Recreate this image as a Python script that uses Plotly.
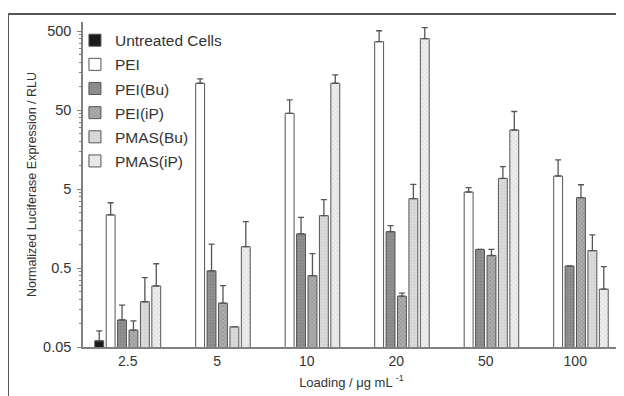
import plotly.graph_objects as go

categories = ["2.5", "5", "10", "20", "50", "100"]
series_names = ["Untreated Cells", "PEI", "PEI(Bu)", "PEI(iP)", "PMAS(Bu)", "PMAS(iP)"]

untreated = [0.06, None, None, None, None, None]
untreated_sd = [0.02, None, None, None, None, None]
pei = [2.35, 109, 45.4, 366, 4.58, 7.3]
pei_sd = [1.0, 15, 21.6, 138, 0.62, 4.4]
pei_bu = [0.11, 0.46, 1.35, 1.44, 0.86, 0.53]
pei_bu_sd = [0.059, 0.54, 0.84, 0.28, 0, 0]
pei_ip = [0.082, 0.18, 0.40, 0.22, 0.72, 3.88]
pei_ip_sd = [0.025, 0.12, 0.36, 0.02, 0.14, 1.78]
pmas_bu = [0.187, 0.09, 2.3, 3.77, 6.8, 0.83]
pmas_bu_sd = [0.19, 0, 1.36, 1.96, 2.8, 0.48]
pmas_ip = [0.296, 0.93, 109, 400, 27.9, 0.27]
pmas_ip_sd = [0.27, 1.0, 30, 151, 20, 0.25]

y_ticks = [0.05, 0.5, 5, 50, 500]
y_tick_text = ["0.05", "0.5", "5", "50", "500"]
minor_ticks = [m * d for d in [0.05, 0.5, 5, 50, 500] for m in range(2, 10)]

values = [untreated, pei, pei_bu, pei_ip, pmas_bu, pmas_ip]
sds = [untreated_sd, pei_sd, pei_bu_sd, pei_ip_sd, pmas_bu_sd, pmas_ip_sd]
styles = [
    dict(color="#1a1a1a"),
    dict(color="#ffffff"),
    dict(color="#8e8e8e", pattern=dict(shape=".", bgcolor="#929292", fgcolor="#6e6e6e", size=3, solidity=0.4)),
    dict(color="#a6a6a6", pattern=dict(shape="x", bgcolor="#b0b0b0", fgcolor="#6a6a6a", size=3, solidity=0.4)),
    dict(color="#d8d8d8", pattern=dict(shape=".", bgcolor="#dcdcdc", fgcolor="#c0c0c0", size=3, solidity=0.4)),
    dict(color="#ececec", pattern=dict(shape="x", bgcolor="#f0f0f0", fgcolor="#bdbdbd", size=3, solidity=0.4)),
]

fig = go.Figure()
for name, v, sd, st in zip(series_names, values, sds, styles):
    marker = dict(line=dict(color="#555555", width=1))
    marker.update(st)
    fig.add_trace(go.Bar(
        x=categories, y=v, name=name, marker=marker, legendgroup=name,
        error_y=dict(type="data", array=sd, symmetric=False,
                     arrayminus=[0] * len(categories),
                     color="#555555", thickness=1.3, width=3),
    ))

# the page adds an 8 px body margin, so the figure is 616x388 and offset
fig.update_layout(
    width=616, height=388,
    margin=dict(l=75, r=4, t=14, b=49, autoexpand=False),
    paper_bgcolor="white", plot_bgcolor="white",
    barmode="group", bargap=0.235, bargroupgap=0.22,
    font=dict(family="Liberation Sans, Arial, sans-serif", color="#333333", size=13),
    legend=dict(
        x=-0.015, y=0.995, xanchor="left", yanchor="top",
        font=dict(size=15.5, color="#333333"),
        bgcolor="rgba(0,0,0,0)", tracegroupgap=1,
    ),
    showlegend=True,
)
fig.update_xaxes(
    type="category", showline=True, linecolor="#808080", linewidth=1.5,
    ticks="", showgrid=False, automargin=False,
    tickfont=dict(size=14),
    title=dict(text="Loading / μg mL <sup>-1</sup>", font=dict(size=13), standoff=10),
)
fig.update_yaxes(
    type="log", range=[-1.301, 2.813], automargin=False,
    tickvals=y_ticks, ticktext=y_tick_text,
    showline=True, linecolor="#808080", linewidth=1.5,
    ticks="outside", ticklen=4, tickcolor="#808080", tickwidth=1.2,
    ticklabelstandoff=3,
    minor=dict(tickvals=minor_ticks, ticks="outside", ticklen=2.5, tickcolor="#808080", tickwidth=1),
    showgrid=False, zeroline=False,
    tickfont=dict(size=14.5),
    title=dict(text="Normalized Luciferase Expression / RLU", font=dict(size=12.5), standoff=4),
)

# outer frame (left and top edges)
fig.add_shape(type="line", xref="paper", yref="paper", x0=-0.1397, x1=-0.1397, y0=1.025, y1=-0.16,
              line=dict(color="#555555", width=2))
fig.add_shape(type="line", xref="paper", yref="paper", x0=-0.1397, x1=1.01, y0=1.025, y1=1.025,
              line=dict(color="#555555", width=2))

fig.write_html("out.html")
